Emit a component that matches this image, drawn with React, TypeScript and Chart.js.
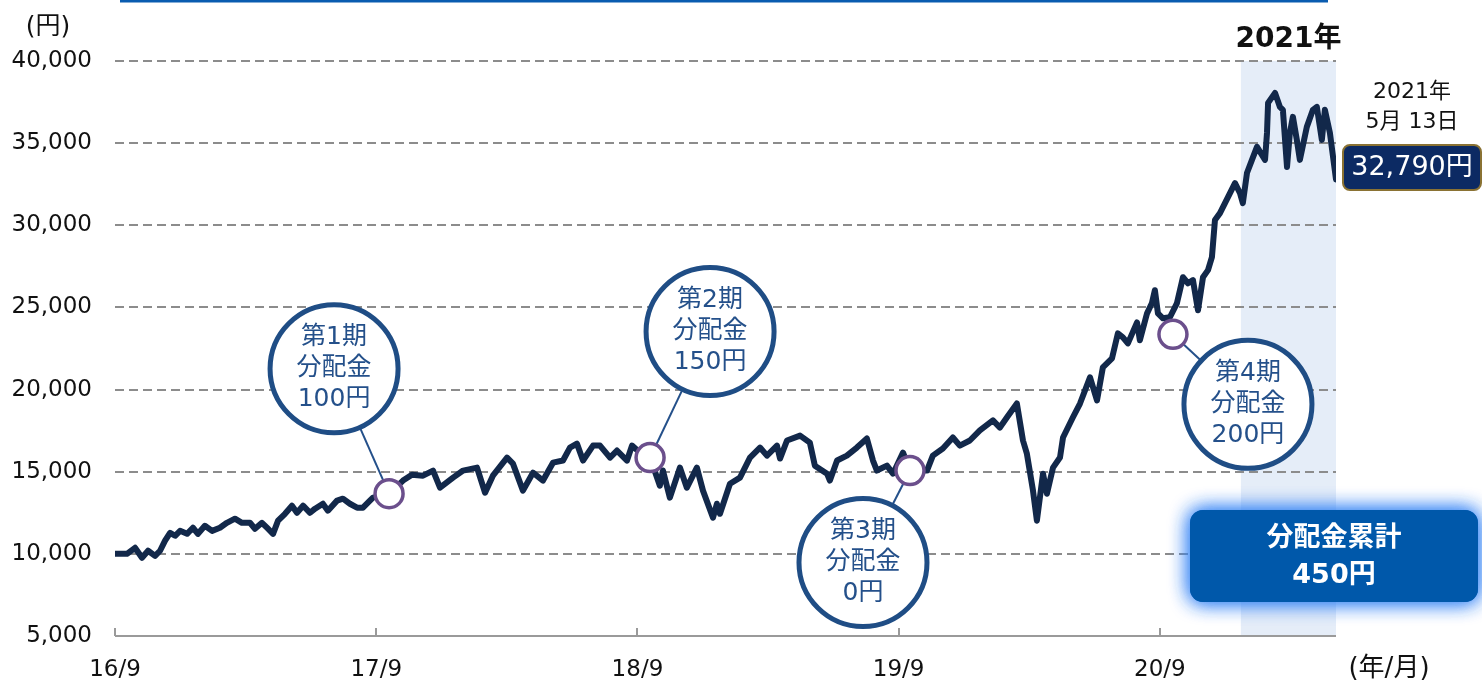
import React, { useEffect, useRef } from "react";
import { Chart, registerables } from "chart.js";

Chart.register(...registerables);

// Months elapsed since 2016/9 (x) and fund price in yen (y)
const monthOffsets = [
  0, 0.55, 0.92, 1.24, 1.52, 1.84, 2.07, 2.3, 2.53, 2.76,
  2.99, 3.31, 3.58, 3.81, 4.13, 4.46, 4.82, 5.14, 5.51, 5.83,
  6.2, 6.43, 6.75, 6.98, 7.26, 7.49, 7.81, 8.13, 8.36, 8.64,
  8.96, 9.19, 9.55, 9.78, 10.2, 10.47, 10.79, 11.12, 11.39, 11.71,
  11.85, 12.17, 12.59,
  13.23, 13.64, 14.15, 14.61, 14.93, 15.53, 15.99, 16.63, 17.0, 17.36,
  18.01, 18.28, 18.74, 19.2, 19.66, 20.12, 20.58, 20.9, 21.22, 21.5,
  21.96, 22.28, 22.74, 23.06, 23.52, 23.75, 24.12, 24.58, 25.03, 25.17,
  25.49, 25.95, 26.27, 26.73, 27.01, 27.47, 27.65, 27.79, 28.25, 28.71,
  29.17, 29.63, 29.95, 30.41, 30.55, 30.87, 31.47, 31.92, 32.15, 32.71,
  32.84, 33.17, 33.62, 34.08, 34.54, 34.82, 35.0, 35.46, 35.74, 36.2,
  36.52, 36.98, 37.3, 37.57, 38.03, 38.49, 38.81, 39.27, 39.73, 40.33,
  40.65, 40.97, 41.43, 41.71, 41.89, 42.17, 42.35, 42.63, 42.81, 43.09,
  43.41, 43.55, 44.0, 44.33, 44.79, 45.11, 45.38, 45.8, 46.07, 46.3,
  46.53, 46.95, 47.08, 47.41, 47.63, 47.77, 47.91, 48.14, 48.46, 48.78,
  49.06, 49.29, 49.52, 49.75, 49.98, 50.21, 50.39, 50.53, 50.76, 50.99,
  51.22, 51.45, 51.68, 51.81, 52.0,
  52.23, 52.46, 52.83, 52.92, 52.97, 53.29, 53.51, 53.65, 53.84, 53.97,
  54.11, 54.29, 54.43, 54.75, 55.03, 55.21, 55.44, 55.58, 55.81, 56.09,
];

const navValues = [
  10000, 10000, 10370, 9760, 10190, 9880, 10190, 10800, 11280, 11100,
  11400, 11220, 11590, 11220, 11710, 11400, 11590, 11890, 12140, 11890,
  11890, 11530, 11890, 11590, 11220, 12020, 12440, 12930, 12500, 12930,
  12500, 12750, 13050, 12630, 13240, 13360, 13050, 12810, 12810, 13240,
  13420, 13500, 13660,
  14460, 14820, 14760, 15070, 14030, 14640, 15070, 15250, 13720, 14760,
  15860, 15490, 13850, 14940, 14460, 15550, 15680, 16470, 16710, 15680,
  16590, 16590, 15860, 16290, 15680, 16590, 16160, 15860, 14150, 15070,
  13420, 15250, 14030, 15250, 13850, 12200, 13050, 12440, 14270, 14640,
  15860, 16470, 15980, 16590, 15800, 16900, 17200, 16770, 15370, 14880,
  14460, 15680, 15980, 16470, 17020, 15680, 15070, 15370, 14880, 16160,
  15070, 15070, 15070, 15980, 16410, 17080, 16590, 16900, 17510, 18120,
  17690, 18300, 19150, 16900, 16100, 13850, 12020, 14880, 13660, 15250,
  15860, 17080, 18300, 19150, 20740, 19340, 21350, 21900, 23420, 23180,
  22810, 24090, 23000, 24640, 25250, 26050, 24640, 24340, 24400, 25250,
  26840, 26470, 26660, 24830, 26840, 27270, 28060, 30320, 30740, 31350,
  31960, 32570, 31960, 31350, 33180,
  33980, 34770, 33980, 35620, 37450, 38060, 37210, 37030, 33550, 35620,
  36600, 35200, 33980, 35990, 37030, 37210, 35200, 37030, 35620, 32790,
];

const xTickMonths = [0, 12, 24, 36, 48];
const xTickLabels = ["16/9", "17/9", "18/9", "19/9", "20/9"];
const yMin = 5000;
const yMax = 40000;
const yStep = 5000;

const distLabels = ["第1期", "第2期", "第3期", "第4期"];
const distAmounts = [100, 150, 0, 200];
const distMonths = [12.59, 24.58, 36.52, 48.6];
const distValues = [13660, 15860, 15070, 23360];

const year2021StartMonth = 51.72;
const yearLabel = "2021年";
const latestDateLines = ["2021年", "5月 13日"];

const FONT = "'DejaVu Sans', 'Noto Sans CJK JP', sans-serif";

// bubble offsets from their markers (layout only)
const bubbleOffsets = [
  [-55, -125],
  [60, -126],
  [-47, 92],
  [75, 70],
];

function roundRect(ctx: CanvasRenderingContext2D, x: number, y: number, w: number, h: number, r: number) {
  ctx.beginPath();
  ctx.moveTo(x + r, y);
  ctx.lineTo(x + w - r, y);
  ctx.arcTo(x + w, y, x + w, y + r, r);
  ctx.lineTo(x + w, y + h - r);
  ctx.arcTo(x + w, y + h, x + w - r, y + h, r);
  ctx.lineTo(x + r, y + h);
  ctx.arcTo(x, y + h, x, y + h - r, r);
  ctx.lineTo(x, y + r);
  ctx.arcTo(x, y, x + r, y, r);
  ctx.closePath();
}

const overlayPlugin = {
  id: "overlay",
  beforeDraw(chart: any) {
    const { ctx, chartArea, scales } = chart;
    const x = scales.x;
    ctx.save();
    const x0 = x.getPixelForValue(year2021StartMonth);
    ctx.fillStyle = "#e5edf8";
    ctx.fillRect(x0, chartArea.top, chartArea.right - x0, chartArea.bottom - chartArea.top);
    ctx.fillStyle = "#0a5cb0";
    ctx.fillRect(120, 0, 1208, 2.5);
    ctx.restore();
  },
  afterDraw(chart: any) {
    const { ctx, chartArea, scales } = chart;
    const xs = scales.x;
    const ys = scales.y;
    ctx.save();

    // axis line + inward ticks
    ctx.strokeStyle = "#9a9a9a";
    ctx.lineWidth = 2;
    ctx.beginPath();
    ctx.moveTo(chartArea.left, chartArea.bottom);
    ctx.lineTo(chartArea.right, chartArea.bottom);
    xTickMonths.forEach((m) => {
      const px = Math.round(xs.getPixelForValue(m));
      ctx.moveTo(px, chartArea.bottom);
      ctx.lineTo(px, chartArea.bottom - 8);
    });
    ctx.stroke();

    // axis unit labels
    ctx.fillStyle = "#111";
    ctx.textAlign = "center";
    ctx.textBaseline = "middle";
    ctx.font = `25px ${FONT}`;
    ctx.fillText("(円)", 48, 27);
    ctx.font = `26px ${FONT}`;
    ctx.fillText("(年/月)", 1389, 669);

    // 2021 label
    const x0 = xs.getPixelForValue(year2021StartMonth);
    ctx.font = `bold 28px ${FONT}`;
    ctx.fillText(yearLabel, (x0 + chartArea.right) / 2, 40);

    // distribution markers and bubbles
    distMonths.forEach((m, i) => {
      const mx = xs.getPixelForValue(m);
      const my = ys.getPixelForValue(distValues[i]);
      const bx = mx + bubbleOffsets[i][0];
      const by = my + bubbleOffsets[i][1];
      const R = 64;
      const r = 14;
      const dx = bx - mx;
      const dy = by - my;
      const d = Math.hypot(dx, dy);
      ctx.strokeStyle = "#24508a";
      ctx.lineWidth = 2;
      ctx.beginPath();
      ctx.moveTo(mx + (dx / d) * r, my + (dy / d) * r);
      ctx.lineTo(bx - (dx / d) * R, by - (dy / d) * R);
      ctx.stroke();

      ctx.beginPath();
      ctx.arc(mx, my, r, 0, Math.PI * 2);
      ctx.fillStyle = "#ffffff";
      ctx.fill();
      ctx.strokeStyle = "#6b4f8c";
      ctx.lineWidth = 3.5;
      ctx.stroke();

      ctx.beginPath();
      ctx.arc(bx, by, R, 0, Math.PI * 2);
      ctx.fillStyle = "#ffffff";
      ctx.fill();
      ctx.strokeStyle = "#1f4d85";
      ctx.lineWidth = 5;
      ctx.stroke();

      ctx.fillStyle = "#24508a";
      ctx.font = `25px ${FONT}`;
      ctx.textAlign = "center";
      ctx.textBaseline = "middle";
      ctx.fillText(distLabels[i], bx, by - 31);
      ctx.fillText("分配金", bx, by);
      ctx.fillText(`${distAmounts[i]}円`, bx, by + 31);
    });

    // latest value
    const lastVal = navValues[navValues.length - 1];
    ctx.fillStyle = "#111";
    ctx.font = `22px ${FONT}`;
    ctx.fillText(latestDateLines[0], 1412, 92);
    ctx.fillText(latestDateLines[1], 1412, 122);
    roundRect(ctx, 1343, 145, 138, 45, 7);
    ctx.fillStyle = "#0c2a63";
    ctx.fill();
    ctx.strokeStyle = "#8a7233";
    ctx.lineWidth = 2;
    ctx.stroke();
    ctx.fillStyle = "#ffffff";
    ctx.font = `27px ${FONT}`;
    ctx.fillText(`${lastVal.toLocaleString("en-US")}円`, 1412, 168);

    // cumulative distributions box
    const total = distAmounts.reduce((a, b) => a + b, 0);
    ctx.save();
    ctx.shadowColor = "rgba(50,130,245,0.95)";
    ctx.shadowBlur = 20;
    roundRect(ctx, 1190, 510, 288, 92, 13);
    ctx.fillStyle = "#0058aa";
    ctx.fill();
    ctx.fill();
    ctx.restore();
    ctx.fillStyle = "#ffffff";
    ctx.font = `bold 27px ${FONT}`;
    ctx.fillText("分配金累計", 1334, 539);
    ctx.fillText(`${total}円`, 1334, 576);

    ctx.restore();
  },
};

export default function App() {
  const canvasRef = useRef<HTMLCanvasElement | null>(null);

  useEffect(() => {
    document.body.style.margin = "0";
    const canvas = canvasRef.current;
    if (!canvas) return;
    const points = monthOffsets.map((m, i) => ({ x: m, y: navValues[i] }));
    const chart = new Chart(canvas, {
      type: "line",
      data: {
        datasets: [
          {
            data: points,
            borderColor: "#12284a",
            borderWidth: 6,
            pointRadius: 0,
            tension: 0,
            borderJoinStyle: "round",
            borderCapStyle: "round",
            fill: false,
          },
        ],
      },
      options: {
        animation: false,
        responsive: true,
        maintainAspectRatio: false,
        layout: { padding: { top: 61, right: 146, left: 0, bottom: 0 } },
        plugins: { legend: { display: false }, tooltip: { enabled: false } },
        scales: {
          x: {
            type: "linear",
            min: 0,
            max: monthOffsets[monthOffsets.length - 1],
            afterFit: (s: any) => {
              s.height = 48;
            },
            afterBuildTicks: (s: any) => {
              s.ticks = xTickMonths.map((v) => ({ value: v }));
            },
            grid: { display: false, drawTicks: false },
            border: { display: false },
            ticks: {
              autoSkip: false,
              maxRotation: 0,
              padding: 20,
              color: "#111",
              font: { family: FONT, size: 23 },
              callback: (v: any) => {
                const idx = xTickMonths.indexOf(Number(v));
                return idx >= 0 ? xTickLabels[idx] : "";
              },
            },
          },
          y: {
            min: yMin,
            max: yMax,
            afterFit: (s: any) => {
              s.width = 115;
            },
            grid: { color: "#8c8c8c", lineWidth: 2, drawTicks: false },
            border: { display: false, dash: [9, 5] },
            ticks: {
              stepSize: yStep,
              padding: 23,
              color: "#111",
              font: { family: FONT, size: 23 },
              callback: (v: any) => Number(v).toLocaleString("en-US"),
            },
          },
        },
      },
      plugins: [overlayPlugin],
    });
    return () => chart.destroy();
  }, []);

  return (
    <div style={{ width: 1482, height: 684, position: "relative" }}>
      <canvas ref={canvasRef} />
    </div>
  );
}
